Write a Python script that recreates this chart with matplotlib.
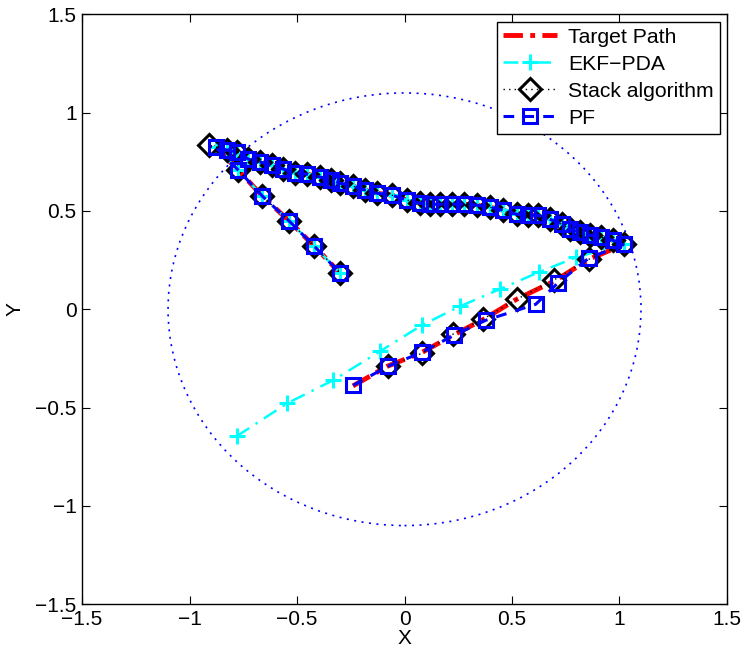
import matplotlib
matplotlib.use("Agg")
import matplotlib.pyplot as plt
from matplotlib.patches import Circle

plt.rcParams['font.family'] = ['Liberation Sans', 'DejaVu Sans']

# ---------------- data ----------------
# lower leg (start of the track, going up-right)
target_low_x = [-0.24, -0.08, 0.08, 0.23, 0.37, 0.52, 0.70, 0.86]
target_low_y = [-0.39, -0.29, -0.22, -0.13, -0.05, 0.05, 0.145, 0.255]

# upper band (going from right to left)
band_x = [1.023, 0.968, 0.916, 0.861, 0.814, 0.768, 0.731, 0.675, 0.619, 0.573,
          0.522, 0.457, 0.397, 0.336, 0.276, 0.220, 0.165, 0.118, 0.072, 0.012,
          -0.058, -0.128, -0.183, -0.239, -0.299, -0.341, -0.392, -0.452, -0.508,
          -0.564, -0.615, -0.671, -0.726, -0.777, -0.824, -0.879]
band_y = [0.331, 0.351, 0.366, 0.377, 0.392, 0.407, 0.433, 0.458, 0.478, 0.478,
          0.483, 0.504, 0.519, 0.529, 0.534, 0.534, 0.534, 0.534, 0.539, 0.555,
          0.580, 0.590, 0.606, 0.626, 0.641, 0.656, 0.672, 0.687, 0.692,
          0.713, 0.733, 0.748, 0.763, 0.799, 0.809, 0.824]

# last leg (going down-right)
legc_x = [-0.773, -0.661, -0.536, -0.420, -0.299]
legc_y = [0.707, 0.575, 0.448, 0.321, 0.183]

# estimators on the lower leg
ekf_low_x = [-0.781, -0.545, -0.332, -0.114, 0.081, 0.258, 0.443, 0.624, 0.800]
ekf_low_y = [-0.646, -0.478, -0.361, -0.214, -0.081, 0.015, 0.102, 0.188, 0.265]

stack_low_x = [-0.077, 0.081, 0.225, 0.364, 0.522, 0.694, 0.857]
stack_low_y = [-0.290, -0.224, -0.127, -0.051, 0.051, 0.148, 0.254]
stack_corner_x = [-0.91]
stack_corner_y = [0.835]

pf_low_x = [-0.239, -0.077, 0.081, 0.230, 0.378, 0.610, 0.712, 0.857]
pf_low_y = [-0.387, -0.290, -0.219, -0.132, -0.056, 0.025, 0.132, 0.260]

gate_radius = 1.1

labels = ['Target Path', 'EKF\u2212PDA', 'Stack algorithm', 'PF']
xticks = [-1.5, -1, -0.5, 0, 0.5, 1, 1.5]
yticks = [-1.5, -1, -0.5, 0, 0.5, 1, 1.5]
tick_text = ['\u22121.5', '\u22121', '\u22120.5', '0', '0.5', '1', '1.5']

target_x = target_low_x + band_x + legc_x
target_y = target_low_y + band_y + legc_y
ekf_x = ekf_low_x + band_x + legc_x
ekf_y = ekf_low_y + band_y + legc_y
stack_x = stack_low_x + band_x[:-1] + stack_corner_x + legc_x
stack_y = stack_low_y + band_y[:-1] + stack_corner_y + legc_y
pf_x = pf_low_x + band_x + legc_x
pf_y = pf_low_y + band_y + legc_y

# ---------------- figure ----------------
fig = plt.figure(figsize=(7.46, 6.49), dpi=100)
ax = fig.add_axes([0.110, 0.069, 0.8645, 0.909])

ax.plot(target_x, target_y, color='red', ls=(0, (4, 1.5, 1, 1.5)), lw=3.5,
        label=labels[0])
ax.plot(ekf_x, ekf_y, color='cyan', ls=(0, (6, 3, 1, 3)), lw=1.8, marker='+',
        ms=11, mew=2.2, label=labels[1])
ax.plot(stack_x, stack_y, color='black', ls=(0, (1, 3)), lw=1, marker='D',
        ms=11, mew=2.2, mfc='none', mec='black', label=labels[2])
ax.plot(pf_x, pf_y, color='blue', ls=(0, (3.5, 3)), lw=2.2, marker='s', ms=10,
        mew=2.2, mfc='none', mec='blue', label=labels[3])

ax.add_patch(Circle((0, 0), gate_radius, fill=False, ec='blue', lw=1.2,
                    ls=(0, (1.2, 3.3))))

ax.set_xlim(-1.5, 1.5)
ax.set_ylim(-1.5, 1.5)
ax.set_xticks(xticks)
ax.set_yticks(yticks)
ax.set_xticklabels(tick_text)
ax.set_yticklabels(tick_text)
ax.tick_params(direction='in', length=6, width=0.8, top=True, right=True,
               labelsize=15, pad=4, colors='black')
for s in ax.spines.values():
    s.set_linewidth(1.0)
ax.set_xlabel('X', fontsize=15, labelpad=0)
ax.set_ylabel('Y', fontsize=15, labelpad=8)

leg = ax.legend(loc='upper right', fontsize=15.2, frameon=True, fancybox=False,
                edgecolor='black', framealpha=1, borderaxespad=0.35,
                handlelength=2.6, labelspacing=0.38, borderpad=0.28,
                handletextpad=0.5)
leg.get_frame().set_linewidth(1.0)

fig.savefig('out.png', dpi=100)
